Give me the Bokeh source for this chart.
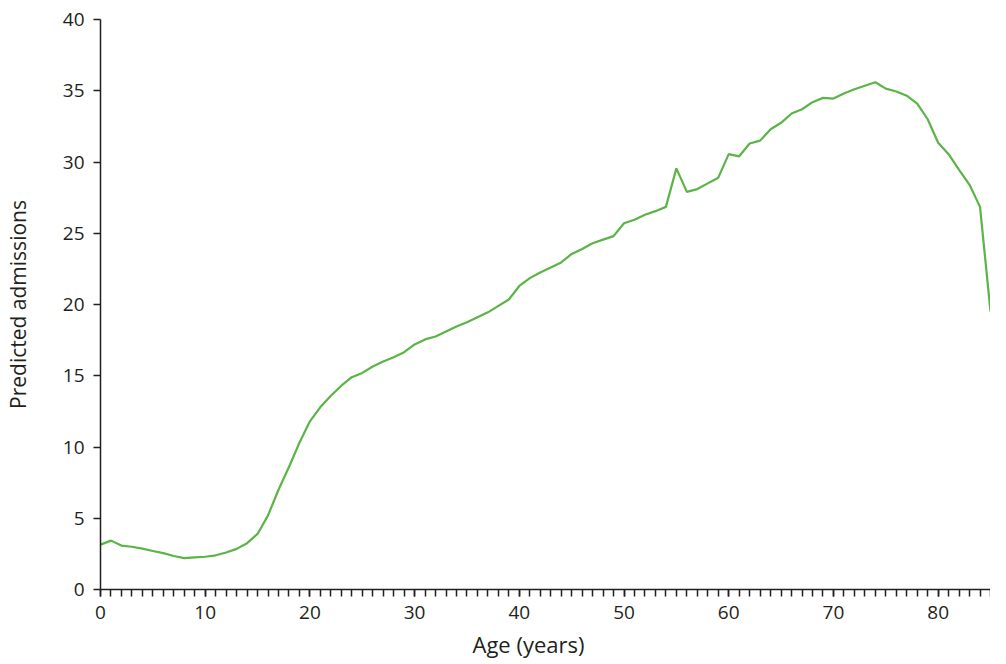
from bokeh.plotting import figure
from bokeh.models import FixedTicker, Range1d, Title
from bokeh.embed import file_html
from bokeh.resources import INLINE

ages = list(range(0, 86))
admissions = [
    3.15, 3.43, 3.08, 3.0, 2.87, 2.7, 2.55, 2.35, 2.2, 2.25,
    2.3, 2.4, 2.6, 2.85, 3.25, 3.9, 5.2, 7.0, 8.6, 10.3,
    11.8, 12.8, 13.6, 14.3, 14.9, 15.2, 15.65, 16.0, 16.3, 16.65,
    17.2, 17.55, 17.75, 18.1, 18.45, 18.75, 19.1, 19.45, 19.9, 20.35,
    21.3, 21.85, 22.25, 22.6, 22.95, 23.55, 23.9, 24.3, 24.55, 24.8,
    25.7, 25.95, 26.3, 26.55, 26.85, 29.55, 27.9, 28.1, 28.5, 28.9,
    30.55, 30.4, 31.3, 31.5, 32.3, 32.75, 33.4, 33.7, 34.2, 34.5,
    34.45, 34.8, 35.1, 35.35, 35.6, 35.15, 34.95, 34.65, 34.1, 33.0,
    31.35, 30.55, 29.45, 28.4, 26.85, 19.5,
]
x_ticks = [0, 10, 20, 30, 40, 50, 60, 70, 80]
x_minor = list(range(0, 86))
y_ticks = [0, 5, 10, 15, 20, 25, 30, 35, 40]
x_label = "Age (years)"
y_label = "Predicted admissions"

FONT = "Open Sans"
TXT = "#231F20"
GREEN = "#5BB446"

p = figure(width=990, height=664, output_backend="svg", toolbar_location=None,
           x_range=Range1d(0, 85), y_range=Range1d(0, 40),
           min_border_left=92, min_border_right=0, min_border_top=19,
           min_border_bottom=74)
p.outline_line_color = None
p.xgrid.visible = False
p.ygrid.visible = False
p.background_fill_color = "white"

p.line(ages, admissions, line_color=GREEN, line_width=2.2)

xa = p.xaxis[0]
xa.ticker = FixedTicker(ticks=x_ticks, minor_ticks=x_minor)
xa.major_tick_out = 7
xa.major_tick_in = 0
xa.minor_tick_out = 7
xa.minor_tick_in = 0
xa.axis_line_color = TXT
xa.major_tick_line_color = TXT
xa.minor_tick_line_color = TXT
xa.axis_line_width = 1.5
xa.major_tick_line_width = 1.5
xa.minor_tick_line_width = 1.5
xa.major_label_text_font = FONT
xa.major_label_text_font_size = "19px"
xa.major_label_text_color = TXT
xa.major_label_standoff = 9

ya = p.yaxis[0]
ya.ticker = FixedTicker(ticks=y_ticks)
ya.major_tick_out = 7
ya.major_tick_in = 0
ya.minor_tick_out = 0
ya.minor_tick_in = 0
ya.axis_line_color = TXT
ya.major_tick_line_color = TXT
ya.axis_line_width = 1.5
ya.major_tick_line_width = 1.5
ya.major_label_text_font = FONT
ya.major_label_text_font_size = "19px"
ya.major_label_text_color = TXT
ya.major_label_standoff = 9
ya.axis_label = y_label
ya.axis_label_text_font = FONT
ya.axis_label_text_font_size = "21px"
ya.axis_label_text_font_style = "normal"
ya.axis_label_text_color = TXT
ya.axis_label_standoff = 28

xt = Title(text=x_label, align="left", offset=372, text_font=FONT,
           text_font_size="22px", text_font_style="normal", text_color=TXT,
           standoff=11)
p.add_layout(xt, "below")

open("out.html", "w").write(file_html(p, INLINE))
